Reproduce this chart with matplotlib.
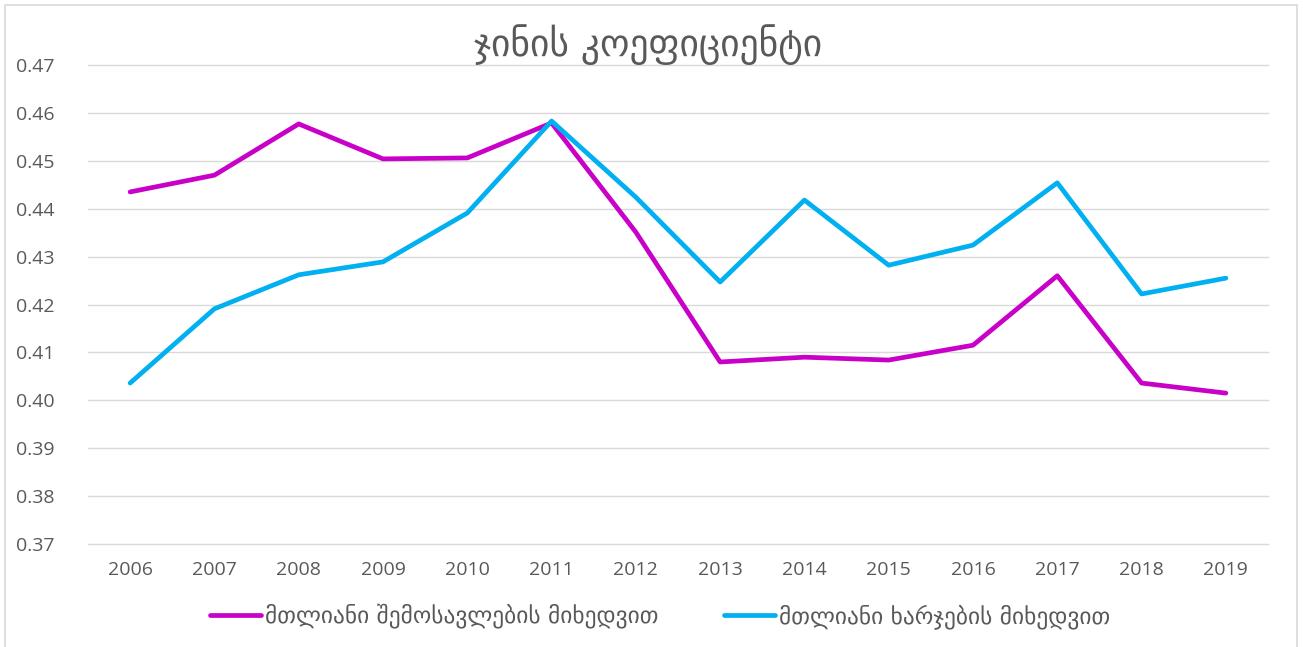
import matplotlib
matplotlib.use("Agg")
import matplotlib.pyplot as plt
from matplotlib.patches import Rectangle

years = ["2006", "2007", "2008", "2009", "2010", "2011", "2012",
         "2013", "2014", "2015", "2016", "2017", "2018", "2019"]
income = [0.4435, 0.4470, 0.4577, 0.4504, 0.4506, 0.4579, 0.4351,
          0.4080, 0.4090, 0.4084, 0.4115, 0.4260, 0.4036, 0.4015]
expenditure = [0.4036, 0.4191, 0.4262, 0.4289, 0.4391, 0.4583, 0.4424,
               0.4247, 0.4418, 0.4282, 0.4324, 0.4454, 0.4222, 0.4255]
yticks = [0.37, 0.38, 0.39, 0.40, 0.41, 0.42, 0.43, 0.44, 0.45, 0.46, 0.47]

title = "ჯინის კოეფიციენტი"
label_income = "მთლიანი შემოსავლების მიხედვით"
label_exp = "მთლიანი ხარჯების მიხედვით"

plt.rcParams['font.family'] = ['DejaVu Sans']
W, H = 1303, 647
fig = plt.figure(figsize=(W / 100, H / 100), dpi=100)
fig.patches.append(Rectangle((5 / W, -0.05), 1292 / W, (H - 5) / H + 0.05, transform=fig.transFigure,
                             fill=False, edgecolor='#D9D9D9', linewidth=1.2))

ax = fig.add_axes([88 / W, 1 - 544 / H, (1268 - 88) / W, (544 - 65) / H])
x = list(range(len(years)))
ax.plot(x, income, color='#C800C8', linewidth=3.4, solid_capstyle='round',
        solid_joinstyle='round', label=label_income, zorder=3)
ax.plot(x, expenditure, color='#00B0F0', linewidth=3.4, solid_capstyle='round',
        solid_joinstyle='round', label=label_exp, zorder=3)

ax.set_xlim(-0.5, len(years) - 0.5)
ax.set_ylim(0.37, 0.47)
ax.set_yticks(yticks)
ax.set_yticklabels([f"{v:.2f}" for v in yticks])
ax.set_xticks(x)
ax.set_xticklabels(years)
ax.tick_params(axis='both', length=0, labelsize=14, labelcolor='#595959')
ax.tick_params(axis='y', pad=24)
ax.tick_params(axis='x', pad=12)
for lab in ax.get_xticklabels() + ax.get_yticklabels():
    lab.set_family(['Open Sans', 'DejaVu Sans'])
ax.grid(axis='y', color='#D9D9D9', linewidth=1)
for gl in ax.get_ygridlines():
    gl.set_clip_on(False)
ax.set_axisbelow(True)
for s in ax.spines.values():
    s.set_visible(False)

fig.text(648 / W, 1 - 45 / H, title, ha='center', va='center', fontsize=27, color='#595959')

leg = fig.legend(loc='center', bbox_to_anchor=(660 / W, 1 - 616 / H), ncol=2, frameon=False,
                 fontsize=16.8, handlelength=2.2, handletextpad=0.15, columnspacing=2.8)
for t in leg.get_texts():
    t.set_color('#595959')

fig.savefig("out.png", dpi=100)
